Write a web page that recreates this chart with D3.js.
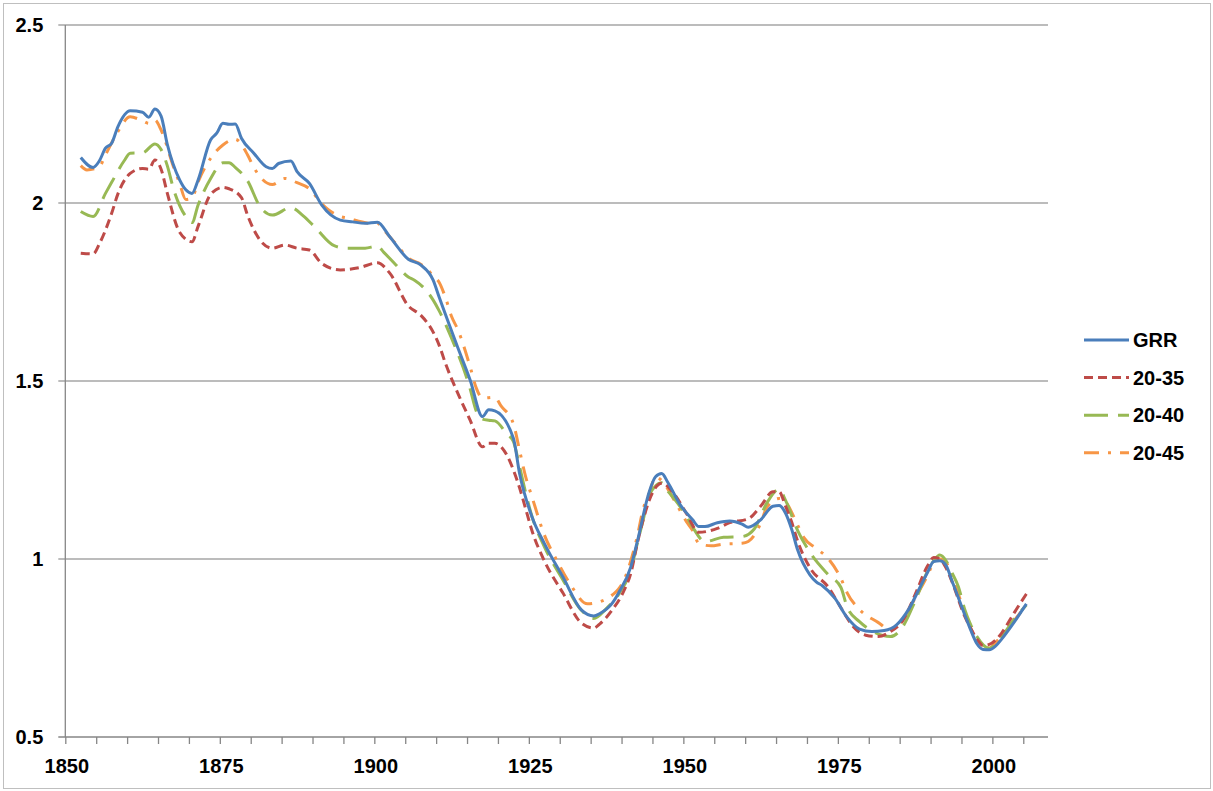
<!DOCTYPE html>
<html>
<head>
<meta charset="utf-8">
<script src="https://cdn.jsdelivr.net/npm/d3@7"></script>
<style>
  body { margin: 0; background: #fff; }
  text { font-family: "Liberation Sans", Arial, sans-serif; font-weight: bold; fill: #000; }
</style>
</head>
<body>
<div id="chart"></div>
<script>
// data (year, value)
var grrYears = [1852,1854,1855,1856,1857,1858,1860,1862,1863,1864,1865,1866,1868,1869,1870,1871,1873,1874,1875,1876,1877,1878,1880,1882,1883,1884,1886,1887,1889,1891,1894,1896,1898,1900,1902,1905,1907,1909,1910,1913,1915,1917,1918,1919,1922,1923,1925,1927,1930,1933,1935,1936,1938,1939,1941,1942,1944,1945,1946,1947,1949,1951,1952,1953,1955,1957,1959,1960,1962,1964,1965,1966,1967,1968,1970,1971,1972,1974,1976,1978,1980,1982,1984,1986,1988,1989,1990,1991,1992,1993,1995,1996,1997,1998,1999,2000,2001,2003,2005];
var grrValues = [2.128,2.100,2.118,2.154,2.168,2.214,2.259,2.255,2.241,2.264,2.244,2.165,2.065,2.037,2.027,2.065,2.177,2.196,2.224,2.221,2.222,2.182,2.140,2.102,2.097,2.111,2.118,2.088,2.055,1.994,1.952,1.947,1.943,1.946,1.905,1.842,1.826,1.784,1.735,1.594,1.503,1.400,1.419,1.416,1.339,1.240,1.119,1.044,0.950,0.857,0.840,0.847,0.876,0.904,0.978,1.045,1.190,1.231,1.240,1.215,1.152,1.110,1.091,1.091,1.102,1.107,1.098,1.089,1.110,1.148,1.150,1.130,1.085,1.025,0.955,0.936,0.925,0.890,0.836,0.803,0.796,0.799,0.815,0.860,0.928,0.962,0.993,0.995,0.982,0.937,0.845,0.800,0.762,0.746,0.745,0.755,0.775,0.822,0.874];

var r35Years = [1852,1854,1855,1857,1858,1860,1862,1863,1864,1865,1866,1868,1870,1871,1873,1875,1876,1878,1879,1881,1883,1885,1887,1889,1891,1894,1897,1900,1902,1905,1907,1909,1910,1911,1913,1915,1917,1918,1919,1921,1922,1923,1924,1925,1927,1930,1933,1935,1936,1938,1940,1941,1942,1943,1944,1946,1948,1950,1952,1955,1957,1960,1962,1964,1965,1966,1967,1968,1970,1973,1975,1977,1979,1981,1983,1985,1987,1989,1990,1991,1992,1993,1995,1996,1997,1998,1999,2000,2001,2003,2005];
var r35Values = [1.859,1.857,1.885,1.971,2.025,2.083,2.097,2.095,2.121,2.095,2.028,1.918,1.891,1.935,2.024,2.044,2.040,2.015,1.965,1.896,1.873,1.882,1.873,1.868,1.830,1.812,1.818,1.832,1.803,1.711,1.685,1.638,1.600,1.550,1.466,1.390,1.315,1.325,1.325,1.290,1.250,1.200,1.140,1.080,0.995,0.905,0.820,0.806,0.818,0.857,0.915,0.960,1.040,1.110,1.166,1.213,1.183,1.128,1.075,1.086,1.102,1.113,1.148,1.189,1.189,1.150,1.105,1.050,0.975,0.920,0.863,0.810,0.786,0.782,0.796,0.827,0.900,0.980,1.004,1.000,0.975,0.935,0.840,0.805,0.775,0.757,0.760,0.772,0.792,0.848,0.902];

var r40Years = [1852,1854,1856,1857,1859,1860,1862,1864,1865,1866,1867,1869,1870,1871,1873,1875,1876,1877,1879,1881,1883,1886,1888,1890,1893,1895,1898,1900,1901,1903,1905,1906,1908,1909,1910,1912,1915,1916,1917,1918,1919,1921,1922,1923,1924,1925,1927,1930,1933,1935,1937,1939,1941,1942,1943,1944,1946,1947,1948,1950,1951,1953,1956,1959,1961,1963,1965,1966,1968,1970,1973,1975,1976,1978,1980,1983,1985,1987,1989,1990,1991,1992,1993,1994,1995,1996,1997,1999,2001,2003,2005];
var r40Values = [1.976,1.962,2.027,2.058,2.118,2.140,2.141,2.166,2.150,2.105,2.040,1.962,1.945,1.995,2.068,2.113,2.113,2.100,2.062,1.990,1.966,1.987,1.964,1.930,1.880,1.873,1.873,1.879,1.862,1.826,1.792,1.783,1.752,1.728,1.697,1.620,1.478,1.415,1.393,1.390,1.388,1.350,1.330,1.260,1.185,1.120,1.035,0.942,0.856,0.833,0.860,0.900,0.970,1.040,1.110,1.180,1.214,1.190,1.170,1.120,1.090,1.049,1.061,1.063,1.085,1.157,1.196,1.166,1.080,1.018,0.955,0.920,0.865,0.824,0.798,0.782,0.810,0.882,0.965,0.995,1.011,0.995,0.960,0.922,0.860,0.815,0.782,0.749,0.782,0.830,0.871];

var r45Years = [1852,1853,1855,1856,1858,1860,1862,1863,1864,1865,1867,1868,1869,1870,1871,1873,1875,1877,1879,1880,1883,1885,1887,1889,1891,1892,1894,1895,1899,1900,1901,1903,1905,1907,1908,1909,1910,1911,1912,1913,1915,1916,1917,1919,1920,1922,1923,1924,1925,1927,1929,1931,1934,1936,1938,1939,1940,1941,1942,1943,1944,1945,1946,1948,1950,1951,1952,1954,1956,1959,1960,1962,1963,1965,1966,1968,1969,1971,1973,1975,1976,1978,1981,1983,1985,1987,1989,1990,1991,1992,1993,1994,1995,1996,1997,1998,1999,2000,2002,2005];
var r45Values = [2.105,2.093,2.102,2.135,2.200,2.242,2.231,2.224,2.233,2.205,2.102,2.055,2.010,2.015,2.060,2.125,2.163,2.179,2.135,2.100,2.052,2.069,2.057,2.040,1.998,1.982,1.962,1.958,1.943,1.943,1.925,1.885,1.845,1.828,1.815,1.795,1.777,1.735,1.681,1.645,1.540,1.480,1.452,1.454,1.430,1.380,1.305,1.230,1.175,1.068,0.997,0.935,0.874,0.880,0.899,0.915,0.945,0.995,1.060,1.140,1.185,1.230,1.220,1.166,1.105,1.080,1.044,1.037,1.042,1.044,1.049,1.100,1.145,1.170,1.161,1.095,1.060,1.030,1.000,0.945,0.905,0.858,0.822,0.801,0.829,0.890,0.953,0.990,1.000,0.990,0.950,0.900,0.855,0.805,0.775,0.755,0.749,0.765,0.805,0.871];

var seriesNames = ["GRR", "20-35", "20-40", "20-45"];
var yTicks = [0.5, 1, 1.5, 2, 2.5];
var xLabels = [1850, 1875, 1900, 1925, 1950, 1975, 2000];

var svgWidth = 1213;
var svgHeight = 791;

var margin = {top: 25, left: 65.3, right: 165, bottom: 54};
var width = 1048 - margin.left;
var height = 737 - margin.top;

var svg = d3.select("#chart")
  .append("svg")
  .attr("width", svgWidth)
  .attr("height", svgHeight);

// outer frame
svg.append("rect")
  .attr("x", 3.5).attr("y", 3.5)
  .attr("width", 1207).attr("height", 785)
  .attr("fill", "none")
  .attr("stroke", "#bfbfbf")
  .attr("stroke-width", 1);

var chartGroup = svg.append("g")
  .attr("transform", `translate(${margin.left}, ${margin.top})`);

// categories 1850..2008, each point in the middle of its slot
var xScale = d3.scaleLinear().domain([1850, 2009]).range([0, width]);
var yScale = d3.scaleLinear().domain([0.5, 2.5]).range([height, 0]);

// gridlines
chartGroup.selectAll(".grid")
  .data(yTicks.filter(t => t > 0.5))
  .enter()
  .append("line")
  .attr("x1", -7).attr("x2", width)
  .attr("y1", d => yScale(d)).attr("y2", d => yScale(d))
  .attr("stroke", "#a6a6a6")
  .attr("stroke-width", 1.3);

// y axis
chartGroup.append("line")
  .attr("x1", 0).attr("x2", 0)
  .attr("y1", 0).attr("y2", height)
  .attr("stroke", "#868686").attr("stroke-width", 1.3);

chartGroup.selectAll(".ylab")
  .data(yTicks)
  .enter()
  .append("text")
  .attr("x", -22)
  .attr("y", d => yScale(d))
  .attr("dy", "0.35em")
  .attr("text-anchor", "end")
  .style("font-size", "20px")
  .text(d => d);

// x axis
var bottomAxis = d3.axisBottom(xScale)
  .tickValues(d3.range(1850, 2009, 5))
  .tickSize(7)
  .tickFormat("");

var xAxisG = chartGroup.append("g")
  .attr("transform", `translate(0, ${height})`)
  .call(bottomAxis);
xAxisG.select(".domain").attr("d", `M-7,0H${width}`).attr("stroke", "#868686").attr("stroke-width", 1.3);
xAxisG.selectAll(".tick line").attr("stroke", "#868686").attr("stroke-width", 1.3);

chartGroup.selectAll(".xlab")
  .data(xLabels)
  .enter()
  .append("text")
  .attr("x", d => xScale(d) + 1.5)
  .attr("y", height + 36)
  .attr("text-anchor", "middle")
  .style("font-size", "20px")
  .text(d => d);

// series
var series = [
  {name: seriesNames[0], years: grrYears, values: grrValues, color: "#4a7ebb", dash: null},
  {name: seriesNames[1], years: r35Years, values: r35Values, color: "#be4b48", dash: "9,5"},
  {name: seriesNames[2], years: r40Years, values: r40Values, color: "#98b954", dash: "24,10"},
  {name: seriesNames[3], years: r45Years, values: r45Values, color: "#f79646", dash: "15,9,3,9"}
];

var line = d3.line()
  .x(d => xScale(d[0] + 0.5))
  .y(d => yScale(d[1]))
  .curve(d3.curveMonotoneX);

// draw in reverse so GRR sits on top
series.slice().reverse().forEach(function(s) {
  var pts = s.years.map((y, i) => [y, s.values[i]]);
  chartGroup.append("path")
    .datum(pts)
    .attr("d", line)
    .attr("fill", "none")
    .attr("stroke", s.color)
    .attr("stroke-width", 3)
    .attr("stroke-dasharray", s.dash)
    .attr("stroke-linejoin", "round");
});

// legend
var legend = svg.append("g")
  .attr("transform", "translate(1084, 340)");

legend.selectAll("line")
  .data(series)
  .enter()
  .append("line")
  .attr("x1", 0).attr("x2", 45)
  .attr("y1", (d, i) => i * 37.6).attr("y2", (d, i) => i * 37.6)
  .attr("stroke", d => d.color)
  .attr("stroke-width", 3)
  .attr("stroke-dasharray", d => d.dash);

legend.selectAll("text")
  .data(series)
  .enter()
  .append("text")
  .attr("x", 49)
  .attr("y", (d, i) => i * 37.6)
  .attr("dy", "0.35em")
  .style("font-size", "20px")
  .text(d => d.name);
</script>
</body>
</html>
